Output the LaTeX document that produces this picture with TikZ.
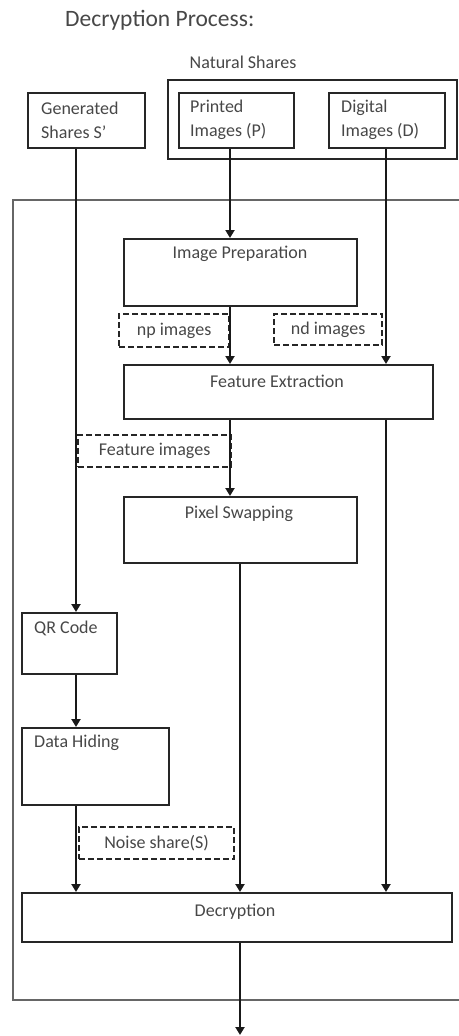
\documentclass[tikz,border=0pt]{standalone}
\usepackage{fontspec}
\setmainfont{Carlito}
\usetikzlibrary{arrows.meta}
\begin{document}
\begin{tikzpicture}[x=1pt,y=-1pt,
  box/.style={draw=black!85, line width=1.7pt, inner sep=0pt, anchor=north west},
  dbox/.style={draw=black!85, line width=2.2pt, dash pattern=on 6pt off 3pt, inner sep=0pt, anchor=north west, text=black!72, font=\fontsize{18}{22}\selectfont},
  txt/.style={text=black!72, font=\fontsize{18}{24}\selectfont, inner sep=0pt},
  arr/.style={-{Triangle[width=9pt,length=8pt]}, line width=2pt, draw=black!90},
  frame/.style={draw=black!60, line width=2.4pt}]
\useasboundingbox (0,0) rectangle (458,1036);
% title
\node[txt, font=\fontsize{23.5}{28}\selectfont, anchor=west] (title) at (65,20) {Decryption Process:};
\node[txt] (natlbl) at (243,62) {Natural Shares};
% outer frame
\coordinate (frTR) at (462,200);
\coordinate (frTL) at (13,200);
\coordinate (frBL) at (13,1000);
\coordinate (frBR) at (462,1000);
\draw[frame] (frTR) -- (frTL) -- (frBL) -- (frBR);
% top boxes
\node[box, minimum width=289pt, minimum height=79pt] (nat) at (167,79) {};
\node[box, minimum width=117pt, minimum height=55pt] (gen) at (27,92) {};
\node[box, minimum width=115pt, minimum height=55pt] (pr) at (178,92) {};
\node[box, minimum width=116pt, minimum height=55pt] (dg) at (328,92) {};
\node[txt, align=left, anchor=west] (gent) at (41,120) {Generated\\Shares S'};
\node[txt, align=left, anchor=west] (prt) at (190,120) {Printed\\Images (P)};
\node[txt, align=left, anchor=west] (dgt) at (341,120) {Digital\\Images (D)};
% process boxes
\node[box, minimum width=233pt, minimum height=67pt] (ip) at (123,238) {};
\node[txt] (ipt) at (240,254) {Image Preparation};
\node[dbox, minimum width=110pt, minimum height=33pt] (np) at (118,313) {np images};
\node[dbox, minimum width=108pt, minimum height=31pt] (nd) at (273,313) {nd images};
\node[box, minimum width=309pt, minimum height=54pt] (fe) at (123,364) {};
\node[txt] (fet) at (277,381) {Feature Extraction};
\node[dbox, minimum width=153pt, minimum height=32pt] (fi) at (77,434) {Feature images};
\node[box, minimum width=233pt, minimum height=66pt] (ps) at (123,496) {};
\node[txt] (pst) at (239,514) {Pixel Swapping};
\node[box, minimum width=95pt, minimum height=61pt] (qr) at (21,612) {};
\node[txt, anchor=west] (qrt) at (34,628) {QR Code};
\node[box, minimum width=147pt, minimum height=77pt] (dh) at (21,727) {};
\node[txt, anchor=west] (dht) at (34,743) {Data Hiding};
\node[dbox, minimum width=155pt, minimum height=32pt] (ns) at (78,826) {Noise share(S)};
\node[box, minimum width=430pt, minimum height=49pt] (dec) at (21,892) {};
\node[txt] (dect) at (235,912) {Decryption};
% x positions of connectors
\coordinate (xL) at (76,0);
\coordinate (xM) at (230,0);
\coordinate (xP) at (240,0);
\coordinate (xR) at (386,0);
\coordinate (out) at (240,1035);
% connectors
\draw[arr] (gen.south -| xL) -- (qr.north -| xL);
\draw[arr] (qr.south -| xL) -- (dh.north -| xL);
\draw[arr] (dh.south -| xL) -- (dec.north -| xL);
\draw[arr] (pr.south -| xM) -- (ip.north -| xM);
\draw[arr] (ip.south -| xM) -- (fe.north -| xM);
\draw[arr] (fe.south -| xM) -- (ps.north -| xM);
\draw[arr] (ps.south -| xP) -- (dec.north -| xP);
\draw[arr] (dg.south -| xR) -- (fe.north -| xR);
\draw[arr] (fe.south -| xR) -- (dec.north -| xR);
\draw[arr] (dec.south -| xP) -- (out);
\end{tikzpicture}
\end{document}
